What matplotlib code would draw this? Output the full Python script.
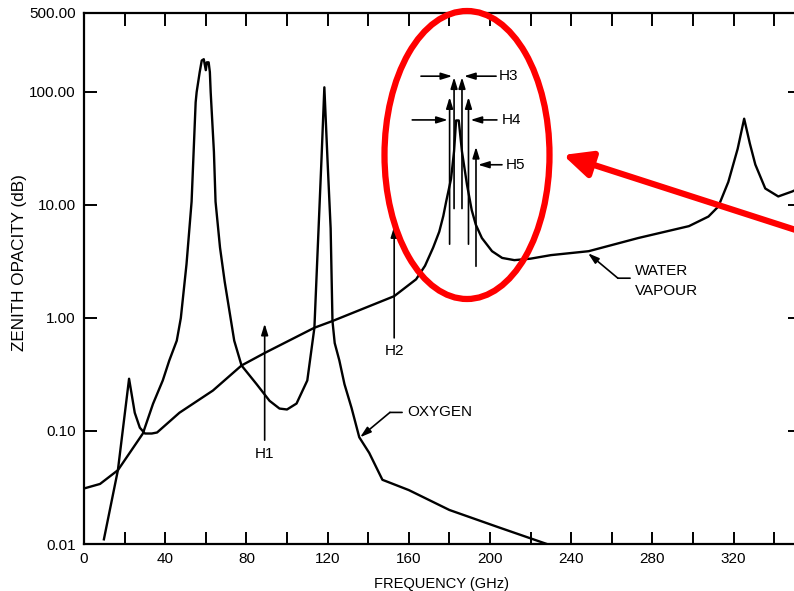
import matplotlib
matplotlib.use("Agg")
import matplotlib.pyplot as plt
from matplotlib.patches import Ellipse

plt.rcParams['font.family'] = ['Liberation Sans', 'DejaVu Sans']

# ---------------- data ----------------
oxygen_ghz = [0, 7.9, 16.7, 29, 34, 38.8, 42, 45.7, 47.7, 50.5, 53, 54, 55, 55.5, 57, 58, 59, 60, 60.5,
              61.4, 62, 62.4, 64, 64.8, 67, 69.3, 74, 77.6, 85, 91.4, 96.3, 100, 104.7, 110, 113.5,
              115, 117, 118.4, 120, 121.5, 122.4, 123.5, 125.8, 128.3, 131.8, 135.6, 140.5, 147,
              160, 180, 204, 228]
oxygen_db = [0.031, 0.034, 0.045, 0.095, 0.174, 0.28, 0.42, 0.63, 1.0, 3.0, 10.7, 29.5, 81, 100, 150,
             190, 195, 156, 183, 183, 150, 100, 29.5, 10.7, 4.2, 2.1, 0.63, 0.38, 0.26, 0.185, 0.158,
             0.155, 0.175, 0.28, 0.82, 3.6, 25.7, 110, 24, 6.2, 0.94, 0.6, 0.42, 0.26, 0.16, 0.088,
             0.064, 0.037, 0.030, 0.020, 0.0141, 0.010]

water_ghz = [9.8, 16.7, 22.2, 25, 27.5, 30, 33.4, 36, 47, 63.5, 77.6, 89, 113.5, 122.4, 152.8, 163.6,
             168, 172, 175, 177, 178.4, 180.8, 182.3, 183.3, 184.6, 186.2, 188.7, 191, 193, 196,
             201, 206, 212, 220, 230, 248.6, 273, 298, 307.6, 312.5, 317.4, 322, 325.2, 328,
             330.7, 335.6, 342, 349, 352]
water_db = [0.011, 0.045, 0.29, 0.145, 0.107, 0.095, 0.095, 0.097, 0.145, 0.228, 0.38, 0.49, 0.82,
            0.94, 1.56, 2.2, 2.9, 4.2, 5.8, 8.0, 10.7, 17, 30, 56, 56, 29.6, 15, 9.0, 6.7, 5.1,
            3.9, 3.4, 3.25, 3.35, 3.6, 3.9, 5.1, 6.5, 7.9, 9.7, 16, 31.4, 58, 35, 22.8, 14, 11.9,
            13.2, 14]

y_ticks = [0.01, 0.1, 1, 10, 100, 500]
y_tick_labels = ["0.01", "0.10", "1.00", "10.00", "100.00", "500.00"]
x_ticks = list(range(0, 360, 20))
x_tick_labels = [str(v) if v % 40 == 0 else "" for v in x_ticks]

# ---------------- figure ----------------
W, H = 794, 591
fig = plt.figure(figsize=(W / 100, H / 100), dpi=100)
ax = fig.add_axes([84 / W, 47 / H, (800 - 84) / W, (544 - 13) / H])

ax.set_yscale('log')
ax.set_xlim(0, (800 - 84) / 2.03)
ax.set_ylim(0.01, 500)

lw = 1.7
ax.plot(oxygen_ghz, oxygen_db, color='black', lw=lw, solid_joinstyle='round')
ax.plot(water_ghz, water_db, color='black', lw=lw, solid_joinstyle='round')

ax.set_yticks(y_ticks)
ax.set_yticklabels(y_tick_labels)
ax.yaxis.set_minor_locator(matplotlib.ticker.NullLocator())
ax.set_xticks(x_ticks)
ax.set_xticklabels(x_tick_labels)

ax.tick_params(axis='both', which='both', direction='in', length=9, width=1.4,
               top=True, right=True, labelsize=11, pad=6, colors='black')
for s in ax.spines.values():
    s.set_linewidth(1.6)

ax.set_xlabel('FREQUENCY (GHz)', fontsize=10.5, labelpad=8)
ax.set_ylabel('ZENITH OPACITY (dB)', fontsize=12.3, labelpad=8)
ax.yaxis.set_label_coords(-0.08, 0.53)

# ---------------- annotations ----------------
head = dict(arrowstyle='-|>,head_length=0.55,head_width=0.17', color='black', lw=1.2,
            shrinkA=0, shrinkB=0, mutation_scale=12)
line = dict(arrowstyle='-', color='black', lw=1.2, shrinkA=0, shrinkB=0)

def arrow(x0, y0, x1, y1, props=head):
    ax.annotate('', xy=(x1, y1), xytext=(x0, y0), xycoords='data', textcoords='data',
                arrowprops=props, annotation_clip=False)

fs = 11
# H1
arrow(89, 0.083, 89, 0.89)
ax.text(89, 0.063, 'H1', ha='center', va='center', fontsize=fs)
# H2
arrow(152.8, 0.667, 152.8, 6.5)
ax.text(152.8, 0.51, 'H2', ha='center', va='center', fontsize=fs)
# H3
arrow(182.3, 9.3, 182.3, 135)
arrow(186.2, 9.3, 186.2, 135)
arrow(166, 138, 181.4, 138)
arrow(203, 138, 187.2, 138)
ax.text(204.5, 138, 'H3', ha='left', va='center', fontsize=fs)
# H4
arrow(180.1, 4.5, 180.1, 90)
arrow(189.4, 4.5, 189.4, 90)
arrow(161.7, 56.6, 179.2, 56.6)
arrow(203.4, 56.6, 190.4, 56.6)
ax.text(206, 56.6, 'H4', ha='left', va='center', fontsize=fs)
# H5
arrow(193.1, 2.87, 193.1, 32.7)
arrow(205.9, 22.7, 194.1, 22.7)
ax.text(208, 22.7, 'H5', ha='left', va='center', fontsize=fs)

# OXYGEN label and leader
arrow(156.7, 0.146, 150.7, 0.146, line)
arrow(150.7, 0.146, 136, 0.088)
ax.text(159.1, 0.146, 'OXYGEN', ha='left', va='center', fontsize=fs)

# WATER VAPOUR label and leader
arrow(269, 2.25, 263, 2.25, line)
arrow(263, 2.25, 248.3, 3.74)
ax.text(271.4, 2.6, 'WATER', ha='left', va='center', fontsize=fs)
ax.text(271.4, 1.73, 'VAPOUR', ha='left', va='center', fontsize=fs)

# ---------------- red highlight ----------------
ell = Ellipse((467 / W, 1 - 155 / H), 165 / W, 288 / H, transform=fig.transFigure,
              fill=False, edgecolor='#ff0000', lw=4.5, zorder=10)
fig.add_artist(ell)
ax.annotate('', xy=(563 / W, 1 - 155 / H), xytext=(805 / W, 1 - 233 / H),
            xycoords='figure fraction', textcoords='figure fraction',
            arrowprops=dict(arrowstyle='-|>,head_length=0.85,head_width=0.4', color='#ff0000',
                            lw=4.5, shrinkA=0, shrinkB=0, mutation_scale=20),
            annotation_clip=False, zorder=10)

fig.savefig('out.png', dpi=100)
